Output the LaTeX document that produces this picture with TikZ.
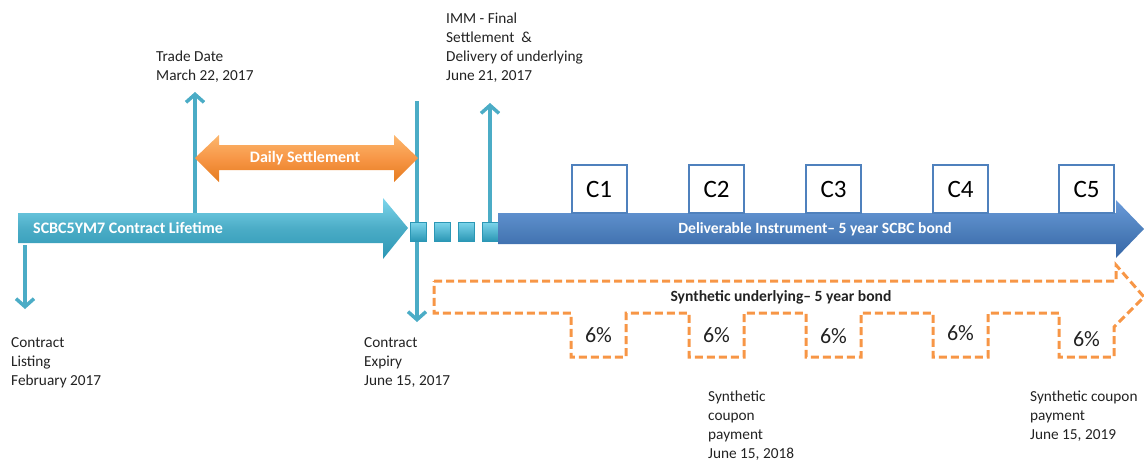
\documentclass[tikz,border=0pt]{standalone}
\usepackage{fontspec}
\setmainfont{Carlito}
\usetikzlibrary{arrows.meta}

\definecolor{aqua}{HTML}{4BACC6}
\definecolor{aqualight}{HTML}{7DD6EC}
\definecolor{aquadark}{HTML}{2B97B5}
\definecolor{bondblue}{HTML}{4F81BD}
\definecolor{bondlight}{HTML}{6A9ADA}
\definecolor{bonddark}{HTML}{3565A6}
\definecolor{amber}{HTML}{F79646}
\definecolor{amberlight}{HTML}{FCB76E}
\definecolor{amberdark}{HTML}{E57B1E}
\definecolor{ink}{HTML}{222222}

\begin{document}
\begin{tikzpicture}[x=1pt,y=-1pt,
  % multi-line labels are placed by the baseline of their last line
  lbl/.style={anchor=base west, align=left, inner sep=0pt, text=ink,
              font=\fontsize{15.3}{19}\selectfont},
  barlabel/.style={inner sep=0pt, text=white, font=\fontsize{16}{18}\selectfont\bfseries},
  tick/.style={draw=aqua, line width=3.5pt,
               -{Straight Barb[length=8pt,width=18pt]}},
  sq/.style={top color=aqualight, bottom color=aquadark, draw=aquadark, line width=0.6pt},
  cbox/.style={draw=bondblue, fill=white, line width=2pt, minimum width=55pt,
               minimum height=48pt, inner sep=0pt, text=black,
               font=\fontsize{25}{28}\selectfont},
  pct/.style={inner sep=0pt, text=ink, font=\fontsize{22}{24}\selectfont},
  dashline/.style={draw=amber, line width=3pt, dash pattern=on 8pt off 4pt}]

\useasboundingbox (0,0) rectangle (1144,461);

% timeline anchor points
\coordinate (listTop) at (25,245);
\coordinate (listEnd) at (25,309);
\coordinate (tradeFoot) at (195,213);
\coordinate (tradeTip) at (195,92);
\coordinate (expTop) at (417,101);
\coordinate (expEnd) at (417,322);
\coordinate (immFoot) at (490,222);
\coordinate (immTip) at (490,103);

% vertical event markers
\draw[tick] (tradeFoot) -- (tradeTip);
\draw[tick] (expTop) -- (expEnd);
\draw[tick] (immFoot) -- (immTip);
\draw[tick] (listTop) -- (listEnd);

% contract lifetime arrow
\path[top color=aqualight, bottom color=aquadark, middle color=aqua]
  (18,213) -- (383,213) -- (383,198) -- (408,228) -- (383,259) -- (383,243)
  -- (18,243) -- cycle;
\node[barlabel, anchor=west] (life) at (33,228) {SCBC5YM7 Contract Lifetime};

% gap between expiry and delivery
\path[sq] (410,222) rectangle (426,241);
\path[sq] (434,222) rectangle (450,241);
\path[sq] (458,222) rectangle (474,241);
\path[sq] (482,222) rectangle (498,241);

% deliverable bond arrow
\path[top color=bondlight, bottom color=bonddark, middle color=bondblue]
  (498,213) -- (1116,213) -- (1116,200) -- (1144,229) -- (1116,258) -- (1116,244)
  -- (498,244) -- cycle;
\node[barlabel, font=\fontsize{15.6}{18}\selectfont\bfseries] (deliv) at (815,229)
  {Deliverable Instrument– 5 year SCBC bond};

% daily settlement double arrow
\path[top color=amberlight, bottom color=amberdark, middle color=amber]
  (195,158) -- (219,135) -- (219,145) -- (394,145) -- (394,135) -- (418,158)
  -- (394,182) -- (394,170) -- (219,170) -- (219,182) -- cycle;
\node[barlabel] (daily) at (305,158) {Daily Settlement};

% coupon boxes
\node[cbox] (c1) at (599,189) {C1};
\node[cbox] (c2) at (716.5,189) {C2};
\node[cbox] (c3) at (833.5,189) {C3};
\node[cbox] (c4) at (960.5,189) {C4};
\node[cbox] (c5) at (1086.5,189) {C5};

% synthetic underlying outline with hanging coupon boxes
\draw[dashline]
  (434,281) -- (1116,281) -- (1116,265) -- (1144,297) -- (1114,327)
  -- (1114,357) -- (1059,357) -- (1059,313) -- (988,313) -- (988,357)
  -- (933,357) -- (933,313) -- (861,313) -- (861,357) -- (806,357)
  -- (806,313) -- (744,313) -- (744,357) -- (689,357) -- (689,313)
  -- (626,313) -- (626,357) -- (571,357) -- (571,313) -- (434,313) -- cycle;
\node[inner sep=0pt, text=ink, font=\fontsize{15.6}{18}\selectfont\bfseries]
  (synth) at (781,297) {Synthetic underlying– 5 year bond};

\node[pct] (p1) at (598.5,335) {6\%};
\node[pct] (p2) at (716.5,335) {6\%};
\node[pct] (p3) at (833.5,336) {6\%};
\node[pct] (p4) at (960.5,333) {6\%};
\node[pct] (p5) at (1086.5,339) {6\%};

% event labels
\node[lbl] (trade) at (156,80) {Trade Date\\March 22, 2017};
\node[lbl] (imm) at (446,80) {IMM - Final\\Settlement~ \&\\Delivery of underlying\\June 21, 2017};
\node[lbl] (listing) at (11,385) {Contract\\Listing\\February 2017};
\node[lbl] (expiry) at (364,385) {Contract\\Expiry\\June 15, 2017};
\node[lbl] (cp18) at (708,458) {Synthetic\\coupon\\payment\\June 15, 2018};
\node[lbl] (cp19) at (1030,439) {Synthetic coupon\\payment\\June 15, 2019};
\end{tikzpicture}
\end{document}
